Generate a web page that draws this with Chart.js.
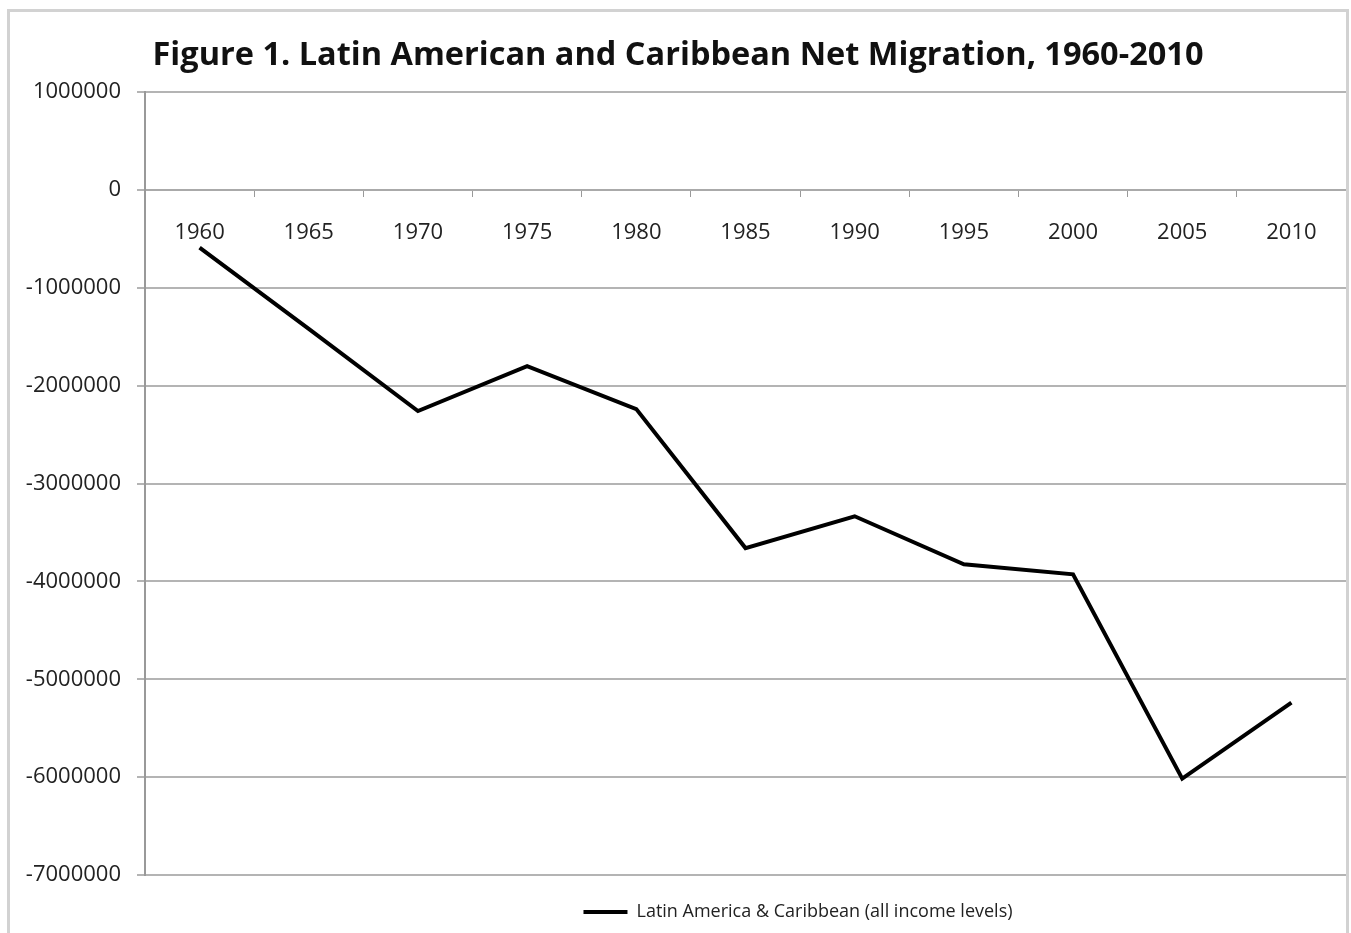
<!DOCTYPE html>
<html lang="en">
<head>
    <meta charset="UTF-8">
    <title>Latin American and Caribbean Net Migration</title>
    <script src="https://cdn.jsdelivr.net/npm/chart.js"></script>
    <style>
        body {
            margin: 0;
            background: #fff;
            overflow: hidden;
        }
        .frame {
            position: absolute;
            left: 7px;
            top: 9px;
            width: 1336px;
            height: 940px;
            border: 3px solid #d2d2d2;
        }
        .chart-container {
            width: 1336px;
            height: 921px;
        }
    </style>
</head>
<body>

    <div class="frame">
        <div class="chart-container">
            <canvas id="migrationChart"></canvas>
        </div>
    </div>

    <script>
        const years = ["1960", "1965", "1970", "1975", "1980", "1985", "1990", "1995", "2000", "2005", "2010"];
        const netMigration = [-590000, -1420000, -2260000, -1800000, -2240000, -3660000, -3335000, -3826000, -3928000, -6015000, -5238000];
        const seriesName = "Latin America & Caribbean (all income levels)";
        const yMin = -7000000;
        const yMax = 1000000;
        const yStep = 1000000;

        // the legend in the original sits right of centre
        const legendShift = {
            id: "legendShift",
            afterLayout(chart) {
                chart.legend.left += 120;
                chart.legend.right += 120;
            }
        };

        const ctx = document.getElementById("migrationChart").getContext("2d");

        new Chart(ctx, {
            type: "line",
            data: {
                labels: years,
                datasets: [{
                    label: seriesName,
                    data: netMigration,
                    borderColor: "#000",
                    backgroundColor: "#000",
                    borderWidth: 4,
                    pointRadius: 0,
                    tension: 0
                }]
            },
            plugins: [legendShift],
            options: {
                responsive: true,
                maintainAspectRatio: false,
                animation: false,
                layout: {
                    padding: { left: 0, right: 0, top: 0, bottom: 2 }
                },
                plugins: {
                    title: {
                        display: true,
                        text: "Figure 1. Latin American and Caribbean Net Migration, 1960-2010",
                        color: "#111",
                        font: { family: "'Open Sans'", size: 32.5, weight: "bold" },
                        padding: { top: 24, bottom: 17 }
                    },
                    legend: {
                        position: "bottom",
                        labels: {
                            usePointStyle: true,
                            pointStyle: "line",
                            pointStyleWidth: 44,
                            color: "#222",
                            font: { family: "'Open Sans'", size: 18 },
                            padding: 28
                        }
                    },
                    tooltip: { enabled: false }
                },
                scales: {
                    x: {
                        type: "category",
                        position: { y: 0 },
                        offset: true,
                        grid: {
                            offset: true,
                            drawOnChartArea: false,
                            drawTicks: true,
                            tickLength: 6,
                            color: "#999"
                        },
                        border: { color: "#aaa", width: 2 },
                        ticks: {
                            color: "#222",
                            font: { family: "'Open Sans'", size: 22 },
                            padding: 24,
                            maxRotation: 0
                        }
                    },
                    y: {
                        min: yMin,
                        max: yMax,
                        afterFit: scale => { scale.width = 135; },
                        grid: {
                            color: "#b4b4b4",
                            lineWidth: 2,
                            tickLength: 8
                        },
                        border: { color: "#999", width: 2 },
                        ticks: {
                            stepSize: yStep,
                            color: "#222",
                            font: { family: "'Open Sans'", size: 22 },
                            padding: 16,
                            callback: v => String(v)
                        }
                    }
                }
            }
        });
    </script>

</body>
</html>
